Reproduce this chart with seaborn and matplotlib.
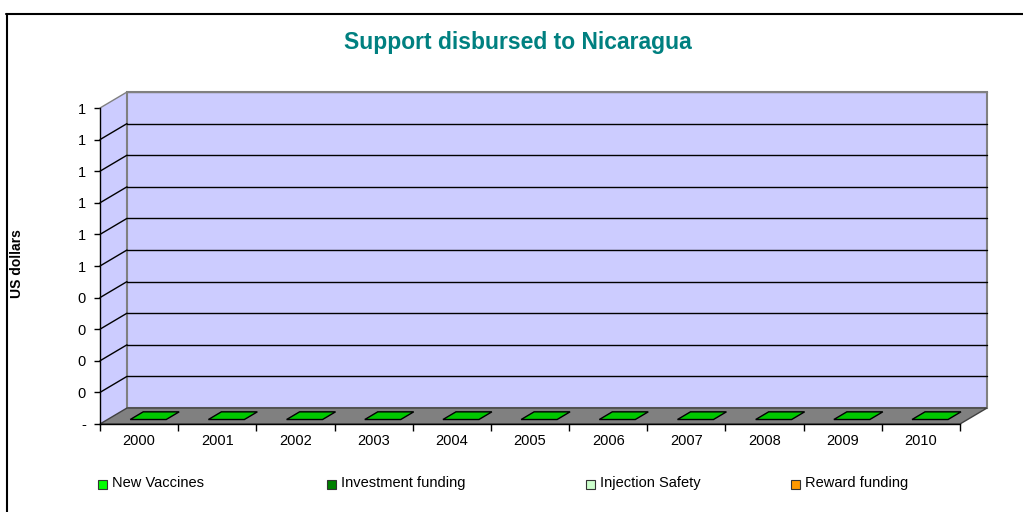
import numpy as np
import pandas as pd
import matplotlib
matplotlib.use("Agg")
import matplotlib.pyplot as plt
from matplotlib.patches import Polygon, Rectangle
from matplotlib.lines import Line2D
import seaborn as sns

# ---------------- data ----------------
years = ["2000", "2001", "2002", "2003", "2004", "2005", "2006", "2007", "2008", "2009", "2010"]
new_vaccines = [0, 0, 0, 0, 0, 0, 0, 0, 0, 0, 0]
investment_funding = [0, 0, 0, 0, 0, 0, 0, 0, 0, 0, 0]
injection_safety = [0, 0, 0, 0, 0, 0, 0, 0, 0, 0, 0]
reward_funding = [0, 0, 0, 0, 0, 0, 0, 0, 0, 0, 0]
series_names = ["New Vaccines", "Investment funding", "Injection Safety", "Reward funding"]
y_ticks = [0.0, 0.1, 0.2, 0.3, 0.4, 0.5, 0.6, 0.7, 0.8, 0.9, 1.0]
y_tick_labels = ["-", "0", "0", "0", "0", "1", "1", "1", "1", "1", "1"]
title = "Support disbursed to Nicaragua"
y_label = "US dollars"

# ---------------- style ----------------
sns.set_theme(style="white")
plt.rcParams["font.family"] = ["Liberation Sans", "DejaVu Sans"]

W, H = 1023, 512
fig = plt.figure(figsize=(W / 100, H / 100), dpi=100)
fig.patch.set_facecolor("white")

# front frame of the 3D plot (pixels, top origin)
L, R, T, B = 100, 960, 108, 424
ax = fig.add_axes([L / W, (H - B) / H, (R - L) / W, (B - T) / H])
ax.set_facecolor("none")

n = len(years)
xlim = (-0.5, n - 0.5)
ylim = (0.0, 1.0)
# depth offsets (27 px right, 16 px up) in data units
DX = 27 / ((R - L) / n)
DY = 16 / (B - T) * (ylim[1] - ylim[0])

colors = ["#00FF00", "#008000", "#CCFFCC", "#FF9900"]
top_colors = ["#00C800", "#006400", "#A8D8A8", "#D07800"]

df = pd.DataFrame({"year": years, "value": new_vaccines})

# left side wall
side = Polygon([(xlim[0], ylim[0]), (xlim[0], ylim[1]), (xlim[0] + DX, ylim[1] + DY),
                (xlim[0] + DX, ylim[0] + DY)], closed=True, facecolor="#CCCCFF",
               edgecolor="none", zorder=0, clip_on=False)
ax.add_patch(side)
# back wall
wall = Rectangle((xlim[0] + DX, ylim[0] + DY), xlim[1] - xlim[0], ylim[1] - ylim[0],
                 facecolor="#CCCCFF", edgecolor="#808080", lw=1.5, zorder=0.5, clip_on=False)
ax.add_patch(wall)
# floor
floor = Polygon([(xlim[0], ylim[0]), (xlim[1], ylim[0]), (xlim[1] + DX, ylim[0] + DY),
                 (xlim[0] + DX, ylim[0] + DY)], closed=True, facecolor="#808080",
                edgecolor="#404040", lw=1, zorder=1, clip_on=False)
ax.add_patch(floor)

# gridlines on the back wall and side wall
for yv in y_ticks[1:]:
    c = "#808080" if yv == y_ticks[-1] else "black"
    ax.plot([xlim[0] + DX, xlim[1] + DX], [yv + DY, yv + DY], color=c, lw=1, zorder=0.8, clip_on=False)
    ax.plot([xlim[0], xlim[0] + DX], [yv, yv + DY], color=c, lw=1, zorder=0.8, clip_on=False)

# zero-height front faces of the bars via seaborn
sns.barplot(data=df, x="year", y="value", ax=ax, color=colors[0], width=0.45,
            linewidth=0, zorder=2)

# top faces (at the stacked value) of the bars
bw = 0.46
f0, f1 = 0.28, 0.76
stack = np.array(new_vaccines, dtype=float)
for i, v in enumerate(stack):
    xc = i + 0.02
    pts = [(xc - bw / 2 + f0 * DX, v + f0 * DY), (xc + bw / 2 + f0 * DX, v + f0 * DY),
           (xc + bw / 2 + f1 * DX, v + f1 * DY), (xc - bw / 2 + f1 * DX, v + f1 * DY)]
    ax.add_patch(Polygon(pts, closed=True, facecolor=top_colors[0], edgecolor="black",
                         lw=1, zorder=3, clip_on=False))

ax.set_xlim(*xlim)
ax.set_ylim(*ylim)
ax.set_xlabel("")
ax.set_ylabel("")

# axes, ticks
for s in ["top", "right"]:
    ax.spines[s].set_visible(False)
for s in ["left", "bottom"]:
    ax.spines[s].set_visible(True)
    ax.spines[s].set_color("black")
    ax.spines[s].set_linewidth(1)
    ax.spines[s].set_zorder(4)

ax.set_yticks(y_ticks)
ax.set_yticklabels(y_tick_labels)
ax.tick_params(axis="y", which="major", direction="out", length=4, width=1, color="black",
               pad=6, labelsize=10.5, labelcolor="black", left=True)
ax.set_xticks(range(n))
ax.set_xticklabels(years)
ax.set_xticks(np.arange(-0.5, n, 1.0), minor=True)
ax.tick_params(axis="x", which="major", length=0, pad=7, labelsize=10.5, labelcolor="black")
ax.tick_params(axis="x", which="minor", direction="out", length=5, width=1, color="black", bottom=True)
ax.grid(False)

# title and axis label
fig.text(518 / W, 1 - 42 / H, title, ha="center", va="center", fontsize=16.5,
         fontweight="bold", color="#008080")
fig.text(17 / W, 1 - 264 / H, y_label, ha="center", va="center", rotation=90,
         fontsize=10, fontweight="bold", color="black")

# legend
leg_x = [98, 327, 586, 791]
leg_y = 484
for name, c, lx in zip(series_names, colors, leg_x):
    fig.patches.append(Rectangle((lx / W, 1 - (leg_y + 5) / H), 9 / W, 9 / H,
                                 transform=fig.transFigure, facecolor=c,
                                 edgecolor="#333333", lw=0.8))
    fig.text((lx + 14) / W, 1 - (leg_y - 1) / H, name, ha="left", va="center",
             fontsize=10.5, color="black")

# chart border (left and top)
fig.lines.append(Line2D([6.5 / W, 6.5 / W], [0, 1 - 13.5 / H], transform=fig.transFigure,
                        color="black", lw=1.5))
fig.lines.append(Line2D([6 / W, 1], [1 - 13.5 / H, 1 - 13.5 / H], transform=fig.transFigure,
                        color="black", lw=1.5))

fig.savefig("out.png", dpi=100, facecolor="white")
